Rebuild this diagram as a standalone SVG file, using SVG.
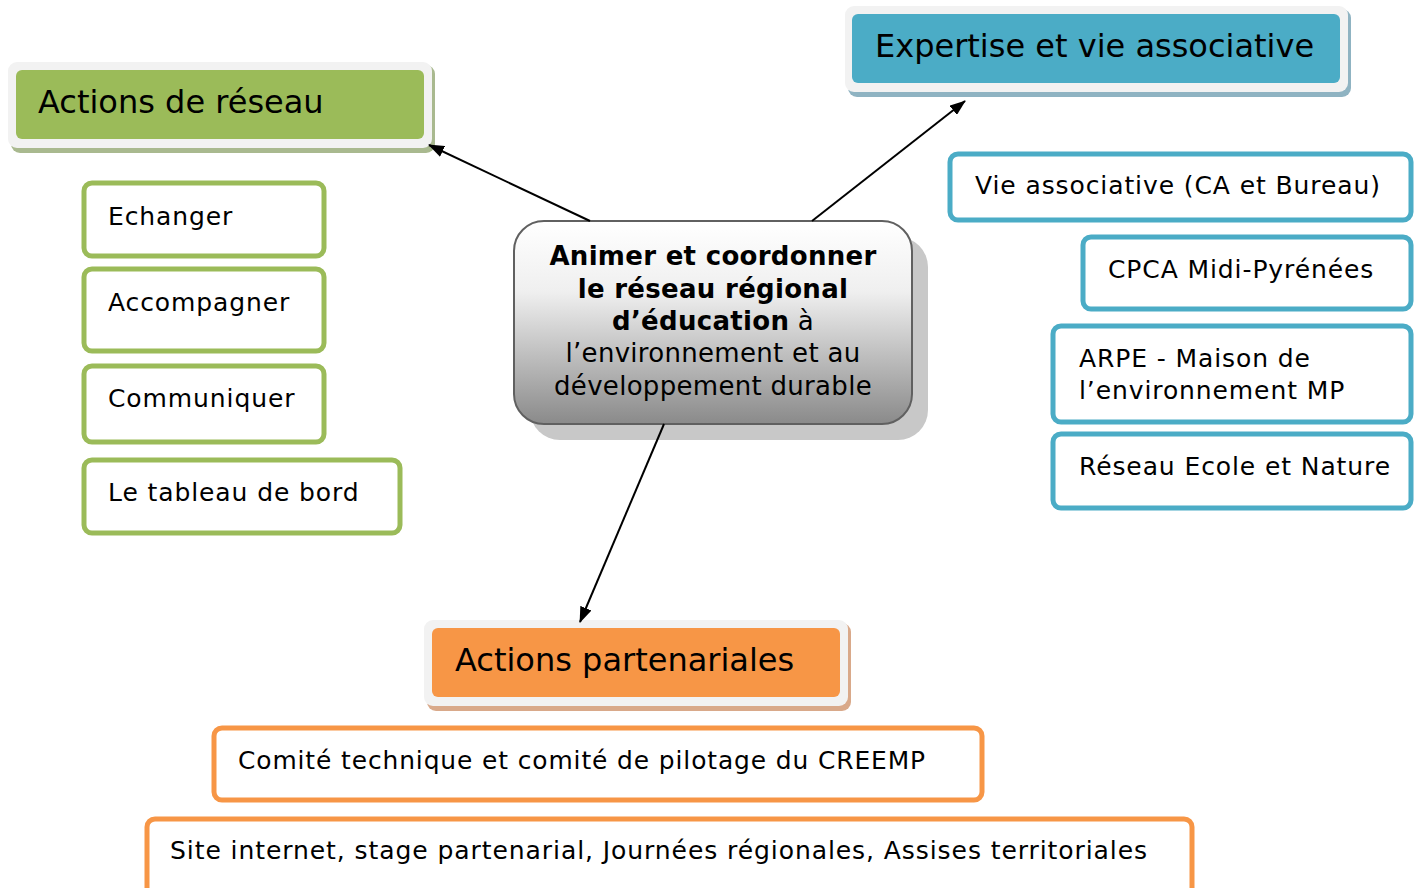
<svg xmlns="http://www.w3.org/2000/svg" width="1414" height="888" viewBox="0 0 1414 888">
<style>
text{font-family:"DejaVu Sans","Verdana",sans-serif;fill:#000}
.h{font-size:32px}
.t{font-size:25px;letter-spacing:0.9px}
.g{fill:#fff;stroke:#9bbb59;stroke-width:5}
.b{fill:#fff;stroke:#4bacc6;stroke-width:5}
.o{fill:#fff;stroke:#f79646;stroke-width:5}
.frame{fill:#f2f2f2}
.c{font-size:26px;letter-spacing:0.3px}
.bold{font-weight:bold}
.conn{stroke:#000;stroke-width:2;fill:none;marker-end:url(#ah)}
</style>
<defs>
<marker id="ah" viewBox="0 0 16 12" refX="15" refY="6" markerWidth="16" markerHeight="12" markerUnits="userSpaceOnUse" orient="auto">
<path d="M0,0 L16,6 L0,12 z" fill="#000"/>
</marker>
<linearGradient id="cg" x1="0" y1="0" x2="0" y2="1">
<stop offset="0" stop-color="#ffffff"/>
<stop offset="0.35" stop-color="#efefef"/>
<stop offset="1" stop-color="#8a8a8a"/>
</linearGradient>
</defs>
<rect width="1414" height="888" fill="#fff"/>

<g id="actions-reseau">
<rect x="11" y="65" width="424" height="88" rx="9" fill="#a9b98f"/>
<rect x="8" y="62" width="424" height="86" rx="9" class="frame"/>
<rect x="16" y="70" width="408" height="69" rx="6" fill="#9bbb59"/>
<text class="h" x="38" y="113">Actions de réseau</text>
</g>

<g id="expertise">
<rect x="848" y="9" width="503" height="88" rx="9" fill="#8fb3c2"/>
<rect x="845" y="6" width="503" height="86" rx="9" class="frame"/>
<rect x="852" y="14" width="488" height="69" rx="6" fill="#4bacc6"/>
<text class="h" x="875" y="57">Expertise et vie associative</text>
</g>

<g id="centre">
<rect x="530" y="237" width="398" height="203" rx="30" fill="#c8c8c8"/>
<rect x="514" y="221" width="398" height="203" rx="30" fill="url(#cg)" stroke="#606060" stroke-width="2"/>
<text class="c" text-anchor="middle" x="713" y="265"><tspan class="bold">Animer et coordonner</tspan></text>
<text class="c" text-anchor="middle" x="713" y="298"><tspan class="bold">le réseau régional</tspan></text>
<text class="c" text-anchor="middle" x="713" y="330"><tspan class="bold">d’éducation</tspan> à</text>
<text class="c" text-anchor="middle" x="713" y="362">l’environnement et au</text>
<text class="c" text-anchor="middle" x="713" y="395">développement durable</text>
</g>

<g id="actions-partenariales">
<rect x="427" y="623" width="424" height="88" rx="9" fill="#d9a98a"/>
<rect x="424" y="620" width="424" height="86" rx="9" class="frame"/>
<rect x="432" y="628" width="408" height="69" rx="6" fill="#f79646"/>
<text class="h" x="455" y="671">Actions partenariales</text>
</g>

<g id="echanger"><rect class="g" x="84" y="183" width="240" height="73" rx="8"/><text class="t" x="108" y="225">Echanger</text></g>
<g id="accompagner"><rect class="g" x="84" y="269" width="240" height="82" rx="8"/><text class="t" x="108" y="311">Accompagner</text></g>
<g id="communiquer"><rect class="g" x="84" y="366" width="240" height="76" rx="8"/><text class="t" x="108" y="407">Communiquer</text></g>
<g id="tableau"><rect class="g" x="84" y="460" width="316" height="73" rx="8"/><text class="t" x="108" y="501">Le tableau de bord</text></g>

<g id="vie-asso"><rect class="b" x="950" y="154" width="461" height="66" rx="8"/><text class="t" x="975" y="194">Vie associative (CA et Bureau)</text></g>
<g id="cpca"><rect class="b" x="1083" y="237" width="328" height="72" rx="8"/><text class="t" x="1108" y="278">CPCA Midi-Pyrénées</text></g>
<g id="arpe"><rect class="b" x="1053" y="326" width="358" height="96" rx="8"/><text class="t" x="1079" y="367">ARPE - Maison de</text><text class="t" x="1079" y="399">l’environnement MP</text></g>
<g id="ren"><rect class="b" x="1053" y="434" width="358" height="74" rx="8"/><text class="t" x="1079" y="475">Réseau Ecole et Nature</text></g>

<g id="comite"><rect class="o" x="214" y="728" width="768" height="72" rx="8"/><text class="t" x="238" y="769" textLength="688" lengthAdjust="spacingAndGlyphs">Comité technique et comité de pilotage du CREEMP</text></g>
<g id="site"><rect class="o" x="147" y="819" width="1045" height="80" rx="8"/><text class="t" x="170" y="859" textLength="978" lengthAdjust="spacingAndGlyphs">Site internet, stage partenarial, Journées régionales, Assises territoriales</text></g>

<g id="connectors">
<line class="conn" x1="590" y1="221" x2="429" y2="145"/>
<line class="conn" x1="812" y1="221" x2="965" y2="101"/>
<line class="conn" x1="664" y1="424" x2="580" y2="622"/>
</g>
</svg>
